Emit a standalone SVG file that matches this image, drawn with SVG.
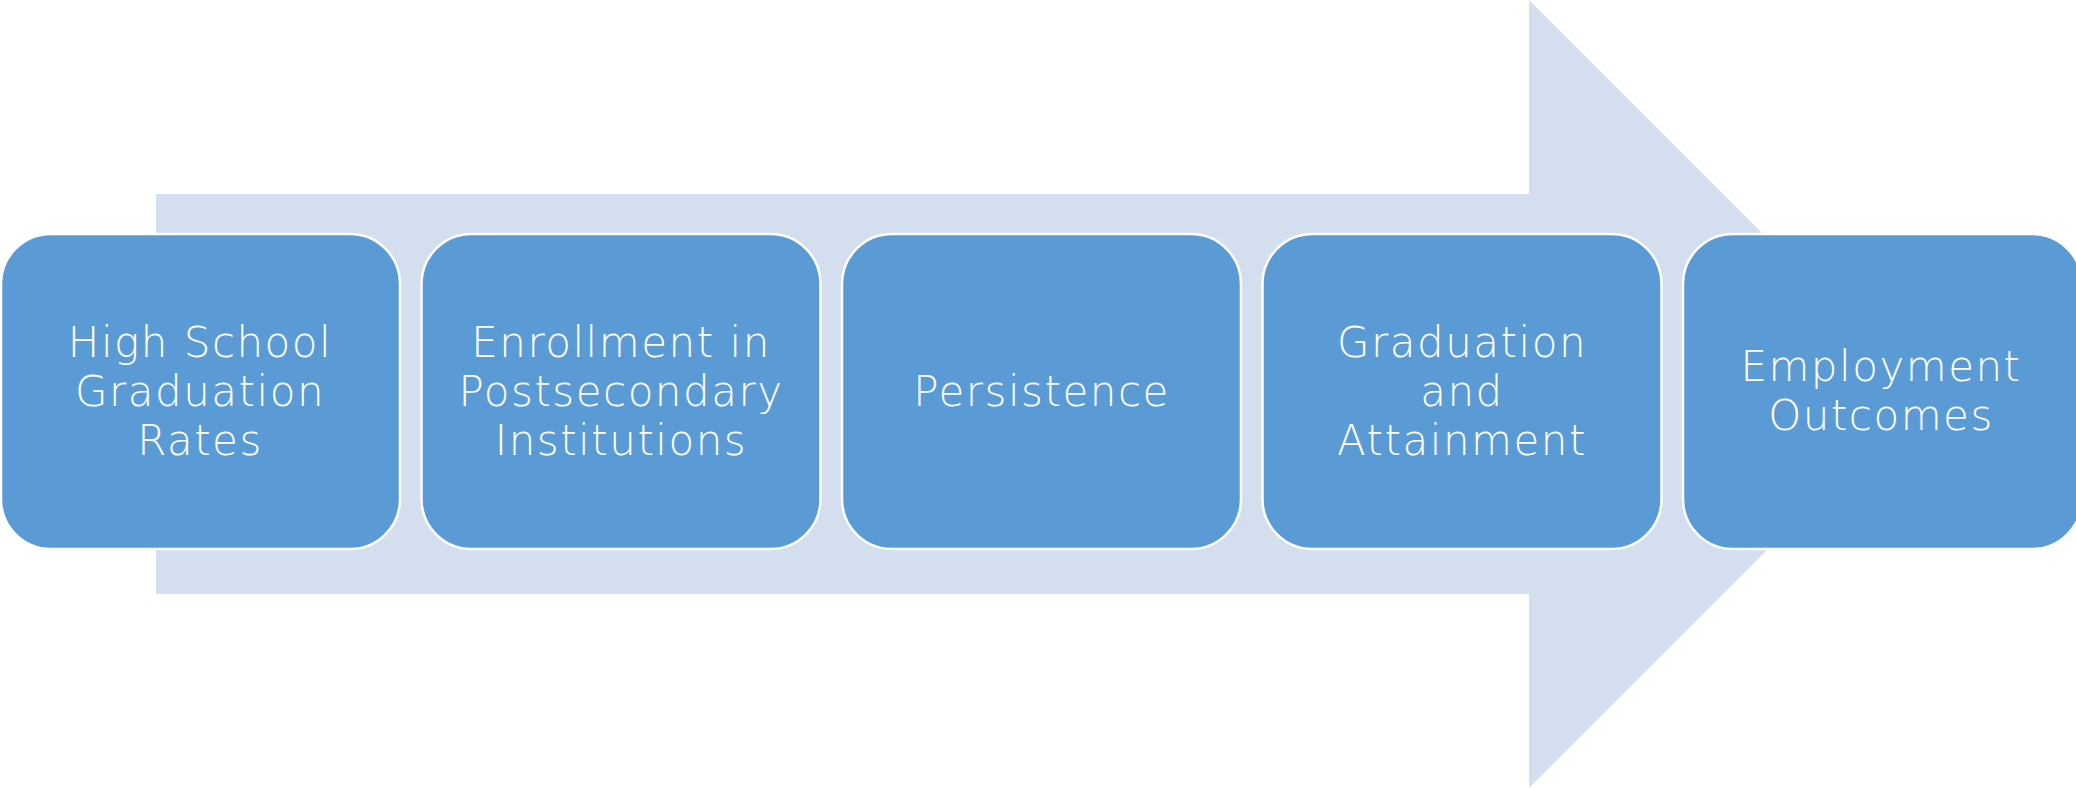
<svg xmlns="http://www.w3.org/2000/svg" width="2076" height="788" viewBox="0 0 2076 788">
<style>
.box{fill:#5B9BD5;stroke:#FFFFFF;stroke-width:2.5}
.lbl{fill:#FFFFFF;font-family:"DejaVu Sans","Open Sans","Liberation Sans",sans-serif;font-weight:200;font-size:42px;text-anchor:middle;letter-spacing:1.5px}
</style>
<rect width="2076" height="788" fill="#FFFFFF"/>
<g id="connectors">
<polygon points="156,194 1529,194 1529,0 1923,394 1529,788 1529,594 156,594" fill="#D3DEEF"/>
</g>
<g id="node1">
<rect class="box" x="1" y="234" width="399" height="315" rx="50" ry="50"/>
<text class="lbl" x="200" y="357">High School</text>
<text class="lbl" x="200" y="406">Graduation</text>
<text class="lbl" x="200" y="455">Rates</text>
</g>
<g id="node2">
<rect class="box" x="421.5" y="234" width="399" height="315" rx="50" ry="50"/>
<text class="lbl" x="621" y="357">Enrollment in</text>
<text class="lbl" x="621" y="406">Postsecondary</text>
<text class="lbl" x="621" y="455">Institutions</text>
</g>
<g id="node3">
<rect class="box" x="842" y="234" width="399" height="315" rx="50" ry="50"/>
<text class="lbl" x="1041.5" y="406">Persistence</text>
</g>
<g id="node4">
<rect class="box" x="1262.5" y="234" width="399" height="315" rx="50" ry="50"/>
<text class="lbl" x="1462" y="357">Graduation</text>
<text class="lbl" x="1462" y="406">and</text>
<text class="lbl" x="1462" y="455">Attainment</text>
</g>
<g id="node5">
<rect class="box" x="1683" y="234" width="399" height="315" rx="50" ry="50"/>
<text class="lbl" x="1881" y="381">Employment</text>
<text class="lbl" x="1881" y="430">Outcomes</text>
</g>
</svg>
